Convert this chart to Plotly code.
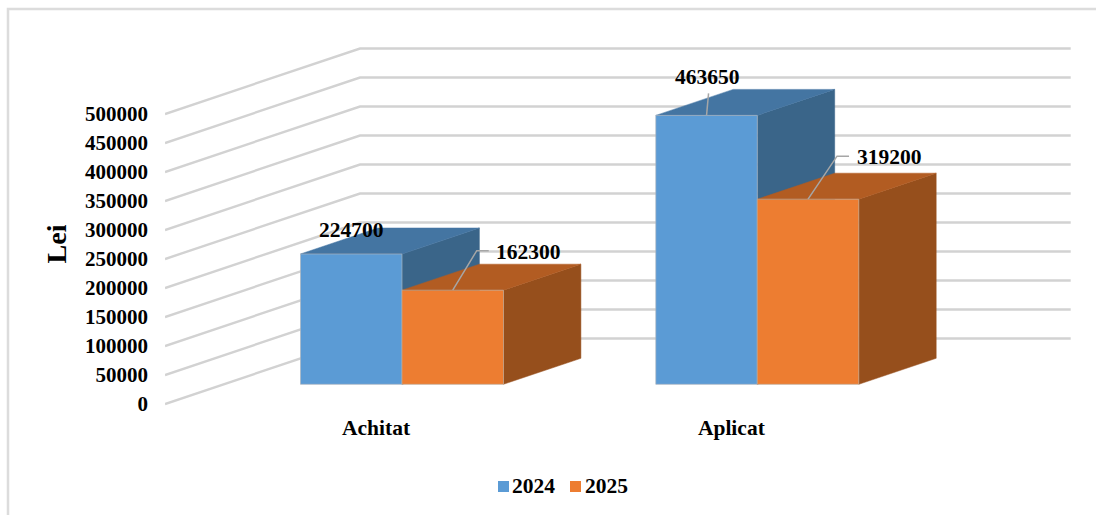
import plotly.graph_objects as go

# ---- data ----
categories = ["Achitat", "Aplicat"]
series_names = ["2024", "2025"]
values_2024 = [224700, 463650]
values_2025 = [162300, 319200]
value_ticks = [0, 50000, 100000, 150000, 200000, 250000, 300000, 350000, 400000, 450000, 500000]
axis_title = "Lei"

# ---- projection / layout constants (pixels of the page) ----
W, H = 1096, 515
PLOT_L, PLOT_R, PLOT_T, PLOT_B = 165, 1075, 46, 442
Y0_WALL = 404          # pixel of value 0 on the front edge of the wall
Y0_BAR = 384.3         # pixel of value 0 on the front of the bars
X_CAT0_BAR = 402       # pixel of first category centre on the bars' front
PX_PER_CAT = 355.3
PX_PER_VAL = 0.00058
WALL_DX_PX, WALL_DY_PX = 195, 65.5
WALL_RIGHT_PX = 1070.7
BAR_W = 101.5 / PX_PER_CAT
T_FRONT = (Y0_WALL - Y0_BAR) / WALL_DY_PX
T_BACK = (Y0_WALL - 358.3) / WALL_DY_PX
WDX = WALL_DX_PX / PX_PER_CAT
WDY = WALL_DY_PX / PX_PER_VAL
X_CAT0_WALL = X_CAT0_BAR - T_FRONT * WALL_DX_PX


def x1_from_px(p):
    return (p - X_CAT0_WALL) / PX_PER_CAT


def xp(p):
    return (p - PLOT_L) / (PLOT_R - PLOT_L)


def yp(p):
    return (PLOT_B - p) / (PLOT_B - PLOT_T)


def project(cat_pos, value, t):
    return cat_pos + t * WDX, value + t * WDY


fig = go.Figure()

# ---- walls' gridlines ----
gx, gy = [], []
for v in value_ticks:
    a = project(x1_from_px(PLOT_L), v, 0)
    b = project(x1_from_px(PLOT_L), v, 1)
    gx += [a[0], b[0], x1_from_px(WALL_RIGHT_PX), None]
    gy += [a[1], b[1], b[1], None]
fig.add_trace(go.Scatter(x=gx, y=gy, mode="lines", line=dict(color="#d2d2d2", width=2.4),
                         showlegend=False, hoverinfo="skip", cliponaxis=False))

FRONT = {"2024": "#5B9BD5", "2025": "#ED7D31"}
TOP = {"2024": "#4475A2", "2025": "#B25C22"}
SIDE = {"2024": "#3A6589", "2025": "#964F1C"}


def poly(xs, ys, color):
    fig.add_trace(go.Scatter(x=xs, y=ys, mode="lines", fill="toself", fillcolor=color,
                             line=dict(color=color, width=0.5), showlegend=False, hoverinfo="skip"))


# ---- depth faces of the bars ----
for i in range(len(categories)):
    for j, (name, vals) in enumerate(zip(series_names, [values_2024, values_2025])):
        v = vals[i]
        l = i + (j - 1) * BAR_W
        r = l + BAR_W
        # right side face
        p1, p2 = project(r, 0, T_FRONT), project(r, 0, T_BACK)
        p3, p4 = project(r, v, T_BACK), project(r, v, T_FRONT)
        poly([p1[0], p2[0], p3[0], p4[0], p1[0]], [p1[1], p2[1], p3[1], p4[1], p1[1]], SIDE[name])
        # top face
        q1, q2 = project(l, v, T_FRONT), project(l, v, T_BACK)
        poly([q1[0], q2[0], p3[0], p4[0], q1[0]], [q1[1], q2[1], p3[1], p4[1], q1[1]], TOP[name])

# ---- front faces: real bars on an overlaid pair of axes ----
fig.add_trace(go.Bar(x=categories, y=values_2024, name=series_names[0], marker_color=FRONT["2024"],
                     marker_line=dict(color="rgba(170,180,190,0.7)", width=1), xaxis="x2", yaxis="y2",
                     showlegend=False))
fig.add_trace(go.Bar(x=categories, y=values_2025, name=series_names[1], marker_color=FRONT["2025"],
                     marker_line=dict(color="rgba(190,170,150,0.7)", width=1), xaxis="x2", yaxis="y2",
                     showlegend=False))

FONT = dict(family="Liberation Serif", size=21, color="black", weight=700)

# ---- leader lines + data labels ----
# (bar index, series, leader bends in pixels from the bar's top-front centre, label shift in pixels)
labels = [
    (0, 0, [], (0, 24)),
    (0, 1, [(24, 39.5), (36, 39.5)], (76, 38)),
    (1, 0, [(2, 22)], (1, 38)),
    (1, 1, [(29, 43), (41, 43)], (81, 42)),
]
all_vals = [values_2024, values_2025]
lx, ly = [], []
annotations = []
for i, j, bends, (sx, sy) in labels:
    v = all_vals[j][i]
    cx = i + (j - 0.5) * BAR_W
    ox, oy = project(cx, v, T_FRONT)
    if bends:
        lx.append(ox); ly.append(oy)
        for dx, dy in bends:
            lx.append(ox + dx / PX_PER_CAT); ly.append(oy + dy / PX_PER_VAL)
        lx.append(None); ly.append(None)
    annotations.append(dict(x=ox, y=oy, xref="x", yref="y", text=str(v), showarrow=False,
                            xshift=sx, yshift=sy, xanchor="center", yanchor="middle",
                            font=dict(FONT, size=21.5)))
fig.add_trace(go.Scatter(x=lx, y=ly, mode="lines", line=dict(color="#a6a6a6", width=1.5),
                         showlegend=False, hoverinfo="skip"))

# ---- legend: swatch close to its text ----
legend_shapes = []
for name, sw_left, text_left in zip(series_names, [498, 570], [512, 585]):
    legend_shapes.append(dict(type="rect", xref="paper", yref="paper", x0=xp(sw_left), x1=xp(sw_left + 11),
                              y0=yp(492), y1=yp(481), fillcolor=FRONT[name], line=dict(width=0)))
    annotations.append(dict(x=xp(text_left), y=yp(486), xref="paper", yref="paper", text=name,
                            showarrow=False, xanchor="left", yanchor="middle", xshift=-2,
                            font=dict(FONT, size=21.5)))

fig.update_layout(
    width=W, height=H, autosize=False,
    margin=dict(l=PLOT_L, r=W - PLOT_R, t=PLOT_T, b=H - PLOT_B, pad=0, autoexpand=False),
    paper_bgcolor="white", plot_bgcolor="rgba(0,0,0,0)",
    barmode="group", bargap=1 - 2 * BAR_W, bargroupgap=0,
    showlegend=False,
    annotations=annotations,
    xaxis=dict(range=[x1_from_px(PLOT_L), x1_from_px(PLOT_R)], tickvals=[0.092, 1.092], ticktext=categories,
               ticks="", showgrid=False, zeroline=False, showline=False, tickfont=dict(FONT, size=21.5),
               ticklabelposition="inside"),
    yaxis=dict(range=[(Y0_WALL - PLOT_B) / PX_PER_VAL, (Y0_WALL - PLOT_T) / PX_PER_VAL],
               tickvals=value_ticks, ticktext=[str(v) for v in value_ticks], ticks="",
               showgrid=False, zeroline=False, showline=False, tickfont=FONT, ticklabelstandoff=16,
               title=dict(text=axis_title, font=dict(FONT, size=28), standoff=10)),
    xaxis2=dict(overlaying="x", anchor="y2", visible=False, type="category",
                range=[(PLOT_L - X_CAT0_BAR) / PX_PER_CAT, (PLOT_R - X_CAT0_BAR) / PX_PER_CAT]),
    yaxis2=dict(overlaying="y", anchor="x2", visible=False,
                range=[(Y0_BAR - PLOT_B) / PX_PER_VAL, (Y0_BAR - PLOT_T) / PX_PER_VAL]),
    shapes=[dict(type="path", xref="paper", yref="paper", layer="below",
                 path=f"M {xp(8)} {yp(515)} L {xp(8)} {yp(9)} L {xp(1096)} {yp(9)}",
                 line=dict(color="#dcdcdc", width=2.5))] + legend_shapes,
)
fig.write_html("out.html", config={"displayModeBar": False},
               post_script="document.body.style.margin='0';document.body.style.overflow='hidden';")
